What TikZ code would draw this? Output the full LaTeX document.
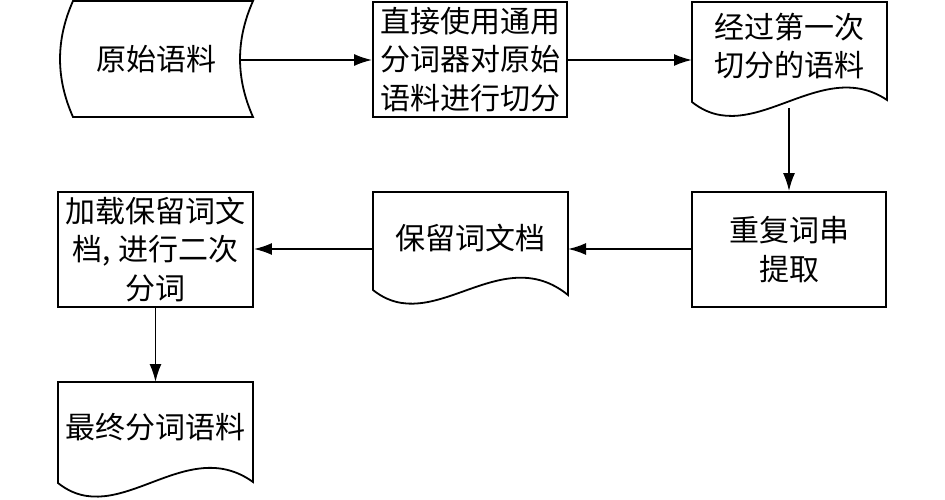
\documentclass[tikz,border=0pt]{standalone}
\usepackage{fontspec}
\newfontfamily\cjk{Noto Sans CJK SC}
\usetikzlibrary{arrows.meta}
\begin{document}
\begin{tikzpicture}[x=1pt,y=-1pt,line width=1.8pt,
  txt/.style={font=\cjk\fontsize{30}{38.5}\selectfont,align=center,inner sep=0pt},
  procbox/.style={draw,txt,inner sep=0pt},
  arr/.style={-{Latex[length=18pt,width=12pt]}}]
\useasboundingbox (0,0) rectangle (945,500);
% box 1: stored data
\draw (73,1) -- (253,1) .. controls (235.7,40) and (235.7,78) .. (253,117)
      -- (73,117) .. controls (55.7,78) and (55.7,40) .. (73,1) -- cycle;
\node[txt] (b1) at (156,59) {原始语料};
\coordinate (b1r) at (240,60);
% box 2
\node[procbox,minimum width=194pt,minimum height=115pt] (b2) at (470,59.5)
  {直接使用通用\\分词器对原始\\语料进行切分};
% box 3: document
\draw (692,102) -- (692,2) -- (887,2) -- (887,100)
      .. controls (820,55) and (752,150) .. (692,102) -- cycle;
\node[txt] (b3) at (789,46) {经过第一次\\切分的语料};
\coordinate (b3l) at (692,60);
\coordinate (b3b) at (789,108);
% box 4
\node[procbox,minimum width=194pt,minimum height=115pt] (b4) at (789,249.5)
  {重复词串\\提取};
% box 5: document
\draw (373,290) -- (373,192) -- (568,192) -- (568,295)
      .. controls (500,240) and (433,338) .. (373,290) -- cycle;
\node[txt] (b5) at (470,238) {保留词文档};
\coordinate (b5l) at (373,249);
\coordinate (b5r) at (568,249);
% box 6
\node[procbox,minimum width=195pt,minimum height=115pt] (b6) at (155.5,249.5)
  {加载保留词文\\档, 进行二次\\分词};
% box 7: document
\draw (58,483) -- (58,382) -- (253,382) -- (253,482)
      .. controls (185,433) and (118,531) .. (58,483) -- cycle;
\node[txt] (b7) at (155.5,427) {最终分词语料};
\coordinate (b7t) at (155.5,382);
% connectors
\draw[arr] (b1r) -- (b2.west |- b1r);
\draw[arr] (b2.east |- b3l) -- (b3l);
\draw[arr] (b3b) -- (b4.north);
\draw[arr] (b4.west |- b5r) -- (b5r);
\draw[arr] (b5l) -- (b6.east |- b5l);
\draw[arr] (b6.south) -- (b7t);
\end{tikzpicture}
\end{document}
